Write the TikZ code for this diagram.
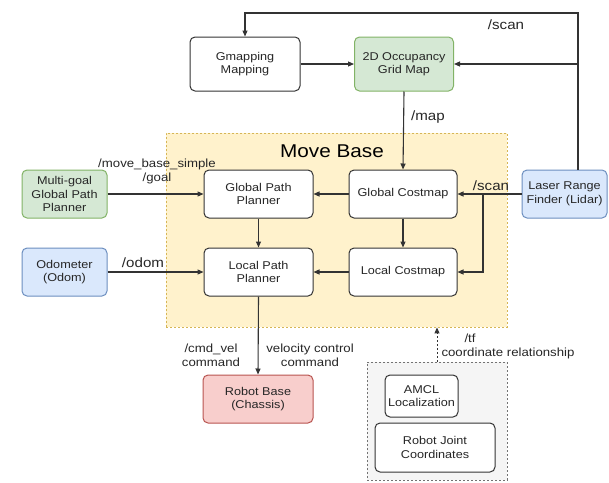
\documentclass[tikz,border=0pt]{standalone}
\usepackage{fontspec}
\setmainfont[FakeStretch=1.12]{Liberation Sans}
\usetikzlibrary{arrows.meta}
\definecolor{linec}{HTML}{333333}
\definecolor{gfill}{HTML}{D5E8D4}\definecolor{gdraw}{HTML}{82B366}
\definecolor{bfill}{HTML}{DAE8FC}\definecolor{bdraw}{HTML}{6C8EBF}
\definecolor{rfill}{HTML}{F8CECC}\definecolor{rdraw}{HTML}{B85450}
\definecolor{yfill}{HTML}{FFF2CC}\definecolor{ydraw}{HTML}{D6B656}
\begin{document}
\begin{tikzpicture}[x=1pt,y=-1pt,
  box/.style={draw=linec, rounded corners=5pt, line width=1pt, fill=white, align=center,
    font=\fontsize{11.3}{13.5}\selectfont, inner sep=1pt, text=black!85},
  greenbox/.style={box, fill=gfill, draw=gdraw},
  bluebox/.style={box, fill=bfill, draw=bdraw},
  redbox/.style={box, fill=rfill, draw=rdraw},
  conn/.style={draw=linec, line width=1.1pt, -{Triangle[length=6pt,width=5pt]}},
  lbl/.style={font=\fontsize{11.8}{14}\selectfont, align=center, inner sep=0pt, text=black!85},
  biglbl/.style={font=\fontsize{13.5}{15}\selectfont, inner sep=0pt, text=black!85},
  region/.style={fill=yfill, draw=ydraw, dash pattern=on 2pt off 2pt, line width=0.8pt},
  grpbox/.style={fill=black!4, draw=black!55, dash pattern=on 2pt off 2pt, line width=0.8pt}
]
\useasboundingbox (0,0) rectangle (609,482);

% containers
\node[region, minimum width=341, minimum height=194] (mb) at (336.5,230) {};
\node[font=\fontsize{18.5}{20}\selectfont, inner sep=0pt] (mbt) at (332,151) {Move Base};
\node[grpbox, minimum width=140, minimum height=118] (grp) at (437,421) {};

% boxes
\node[box, minimum width=110, minimum height=54] (gm) at (245,64) {Gmapping\\Mapping};
\node[greenbox, minimum width=99, minimum height=54] (occ) at (404,64) {2D Occupancy\\Grid Map};
\node[greenbox, minimum width=85, minimum height=48] (mg) at (64.5,194) {Multi-goal\\Global Path\\Planner};
\node[bluebox, minimum width=85, minimum height=48] (odo) at (64.5,272) {Odometer\\(Odom)};
\node[box, minimum width=109, minimum height=48] (gpp) at (258.5,194) {Global Path\\Planner};
\node[box, minimum width=109, minimum height=48] (lpp) at (258.5,272) {Local Path\\Planner};
\node[box, minimum width=108, minimum height=48] (gcm) at (403,194) {Global Costmap};
\node[box, minimum width=108, minimum height=48] (lcm) at (403,272) {Local Costmap};
\node[bluebox, minimum width=85, minimum height=48, inner sep=0pt] (laser) at (564.5,194) {Laser Range\\Finder (Lidar)};
\node[redbox, minimum width=110, minimum height=48] (rb) at (258,399) {Robot Base\\(Chassis)};
\node[box, minimum width=73, minimum height=42, inner sep=0pt] (amcl) at (421.5,396) {AMCL\\Localization};
\node[box, minimum width=120, minimum height=49] (rjc) at (435,447.5) {Robot Joint\\Coordinates};

% coordinates
\coordinate (lz) at ([xshift=13.5]laser.north);
\coordinate (top) at (578,13);
\coordinate (br) at (483,194);

% connectors
\draw[conn] (lz) -- (top) -| (gm.north);
\draw[conn] (lz |- occ.east) -- (occ.east);
\draw[conn] (gm.east) -- (occ.west);
\draw[conn] (occ.south) -- (gcm.north);
\draw[conn] (laser.west) -- (gcm.east);
\draw[conn] (br) |- (lcm.east);
\draw[conn] (gcm.west) -- (gpp.east);
\draw[conn] (gcm.south) -- (lcm.north);
\draw[conn] (lcm.west) -- (lpp.east);
\draw[conn] (gpp.south) -- (lpp.north);
\draw[conn] (mg.east) -- (gpp.west);
\draw[conn] (odo.east) -- (lpp.west);
\draw[conn] (lpp.south) -- (rb.north);
\draw[conn, line width=0.9pt, dash pattern=on 2pt off 2pt] (grp.north) -- (grp.north |- mb.south);

% labels
\node[biglbl] (l_scan1) at (506,25) {/scan};
\node[biglbl] (l_map) at (428,117) {/map};
\node[biglbl] (l_scan2) at (491,186) {/scan};
\node[lbl] (l_goal) at (157,171) {/move\_base\_simple\\/goal};
\node[biglbl] (l_odom) at (143,263) {/odom};
\node[lbl] (l_cmd) at (211,355) {/cmd\_vel\\command};
\node[lbl] (l_vel) at (310,355) {velocity control\\command};
\node[lbl] (l_tf) at (470,338) {/tf};
\node[lbl] (l_coord) at (508,353) {coordinate relationship};
\end{tikzpicture}
\end{document}
